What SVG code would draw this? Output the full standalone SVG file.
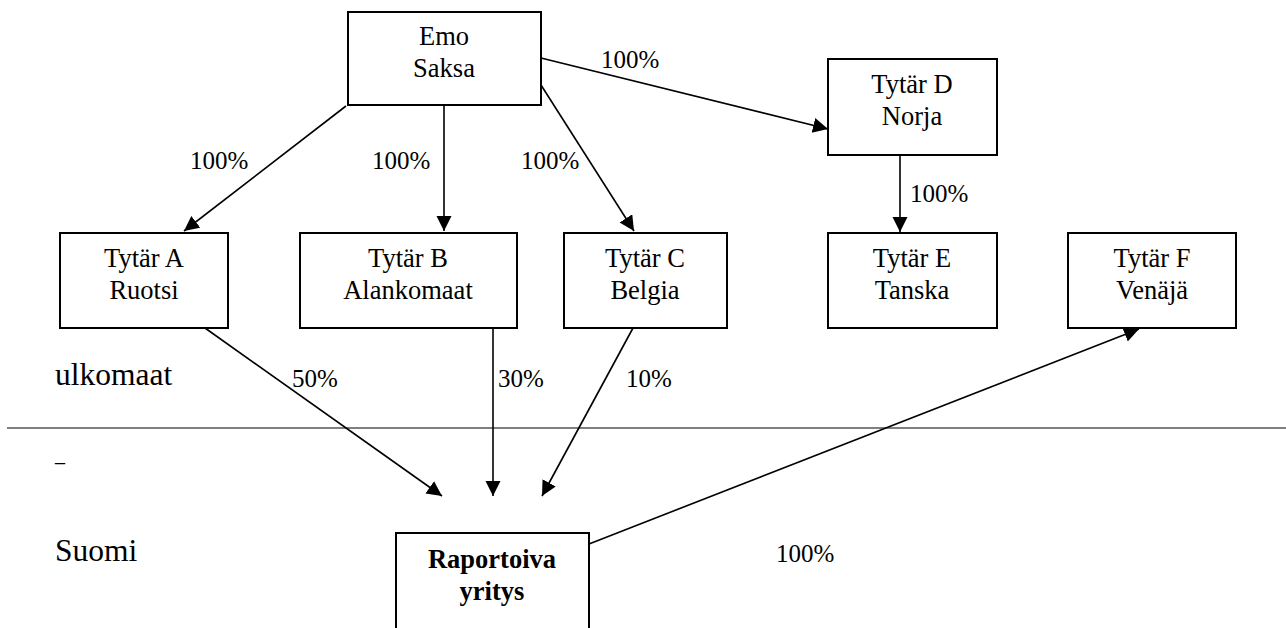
<svg xmlns="http://www.w3.org/2000/svg" width="1286" height="628" viewBox="0 0 1286 628">
<style>
.box{fill:#fff;stroke:#000;stroke-width:2}
.t{font-family:'Liberation Serif','Times New Roman',serif;font-size:26.5px;fill:#000;text-anchor:middle}
.b{font-weight:bold}
.lbl{font-family:'Liberation Serif','Times New Roman',serif;font-size:25px;fill:#000}
.big{font-family:'Liberation Serif','Times New Roman',serif;font-size:31.5px;fill:#000}
.c{stroke:#000;stroke-width:1.6;fill:none;marker-end:url(#ah)}
</style>
<defs>
<marker id="ah" markerUnits="userSpaceOnUse" markerWidth="16" markerHeight="16" refX="15" refY="7.5" orient="auto" viewBox="0 0 16 16">
<path d="M0,0 L15,7.5 L0,15 z" fill="#000"/>
</marker>
</defs>
<rect width="1286" height="628" fill="#fff"/>
<g id="divider">
<line x1="7" y1="428" x2="1286" y2="428" stroke="#555" stroke-width="1.3"/>
<text class="lbl" x="55" y="461" style="font-size:20px">_</text>
</g>
<g id="connectors">
<line class="c" x1="346" y1="106" x2="184" y2="231"/>
<line class="c" x1="444" y1="105" x2="444" y2="231"/>
<line class="c" x1="541" y1="85" x2="634" y2="231"/>
<line class="c" x1="541" y1="58" x2="828" y2="129"/>
<line class="c" x1="900" y1="155" x2="900" y2="232"/>
<line class="c" x1="205" y1="328" x2="442" y2="496"/>
<line class="c" x1="493" y1="328" x2="493" y2="496"/>
<line class="c" x1="633" y1="328" x2="542" y2="496"/>
<line class="c" x1="589" y1="544" x2="1139" y2="329"/>
</g>
<g id="labels">
<text class="lbl" x="601" y="68">100%</text>
<text class="lbl" x="190" y="169">100%</text>
<text class="lbl" x="372" y="169">100%</text>
<text class="lbl" x="521" y="169">100%</text>
<text class="lbl" x="910" y="202">100%</text>
<text class="lbl" x="292" y="387">50%</text>
<text class="lbl" x="498" y="387">30%</text>
<text class="lbl" x="626" y="387">10%</text>
<text class="lbl" x="776" y="562">100%</text>
<text class="big" x="55" y="385">ulkomaat</text>
<text class="big" x="55" y="561">Suomi</text>
</g>
<g id="emo">
<rect class="box" x="348" y="12" width="193" height="93"/>
<text class="t" x="444" y="45">Emo</text>
<text class="t" x="444" y="77">Saksa</text>
</g>
<g id="tytar-a">
<rect class="box" x="60" y="233" width="168" height="95"/>
<text class="t" x="144" y="267">Tytär A</text>
<text class="t" x="144" y="299">Ruotsi</text>
</g>
<g id="tytar-b">
<rect class="box" x="300" y="233" width="217" height="95"/>
<text class="t" x="408" y="267">Tytär B</text>
<text class="t" x="408" y="299">Alankomaat</text>
</g>
<g id="tytar-c">
<rect class="box" x="564" y="233" width="163" height="95"/>
<text class="t" x="645" y="267">Tytär C</text>
<text class="t" x="645" y="299">Belgia</text>
</g>
<g id="tytar-d">
<rect class="box" x="828" y="59" width="169" height="96"/>
<text class="t" x="912" y="93">Tytär D</text>
<text class="t" x="912" y="125">Norja</text>
</g>
<g id="tytar-e">
<rect class="box" x="828" y="233" width="169" height="95"/>
<text class="t" x="912" y="267">Tytär E</text>
<text class="t" x="912" y="299">Tanska</text>
</g>
<g id="tytar-f">
<rect class="box" x="1068" y="233" width="168" height="95"/>
<text class="t" x="1152" y="267">Tytär F</text>
<text class="t" x="1152" y="299">Venäjä</text>
</g>
<g id="raportoiva">
<rect class="box" x="396" y="533" width="193" height="120"/>
<text class="t b" x="492" y="568">Raportoiva</text>
<text class="t b" x="492" y="600">yritys</text>
</g>
</svg>
